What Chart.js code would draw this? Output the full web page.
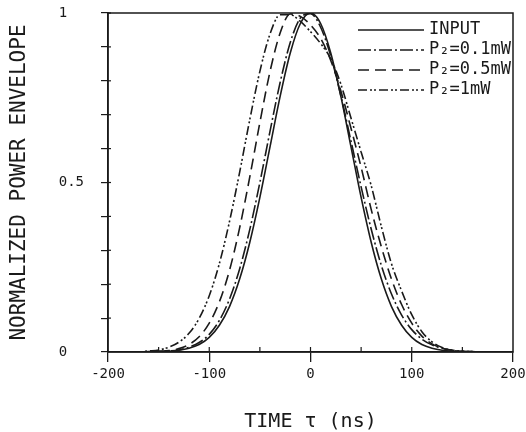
<!DOCTYPE html>
<html>
<head>
<meta charset="utf-8">
<title>pulse envelope</title>
<script src="https://cdn.jsdelivr.net/npm/chart.js@4"></script>
<style>
  body { margin: 0; background: #fff; }
</style>
</head>
<body>
<canvas id="myChart" width="526" height="432"></canvas>
<script>
// time axis (ns) - shared by every curve
const timeNs = [-200,-190,-180,-170,-160,-150,-140,-130,-120,-110,-100,-90,-80,-70,-60,-50,-40,-30,-20,-10,
                0,10,20,30,40,50,60,70,80,90,100,110,120,130,140,150,160,170,180,190,200];

// values
const inputPulse = [0,0,0,0,0,0.001,0.002,0.005,0.011,0.022,0.043,0.079,0.134,0.215,0.323,0.456,0.605,0.754,0.882,0.969,
                    1.0,0.969,0.882,0.754,0.605,0.456,0.323,0.215,0.134,0.079,0.043,0.022,0.011,0.005,0.002,0.001,0,0,0,0,0];
const p01mW = [0,0,0,0,0.001,0.002,0.003,0.006,0.014,0.028,0.052,0.093,0.156,0.245,0.361,0.5,0.651,0.795,0.913,0.985,
               0.998,0.958,0.873,0.756,0.622,0.487,0.362,0.255,0.171,0.109,0.066,0.038,0.021,0.011,0.005,0.002,0.001,0,0,0,0];
const p05mW = [0,0,0,0,0.001,0.002,0.004,0.010,0.022,0.045,0.085,0.148,0.241,0.366,0.516,0.677,0.827,0.941,0.997,0.99,
               0.965,0.925,0.86,0.77,0.66,0.545,0.42,0.31,0.215,0.14,0.085,0.047,0.024,0.011,0.005,0.002,0.001,0,0,0,0];
const p1mW  = [0,0,0,0,0.003,0.006,0.014,0.029,0.055,0.099,0.166,0.261,0.385,0.530,0.685,0.828,0.938,0.995,0.995,0.975,
               0.945,0.91,0.865,0.79,0.69,0.59,0.49,0.37,0.26,0.18,0.11,0.06,0.03,0.013,0.005,0.002,0.001,0,0,0,0];

const seriesLabels = ['INPUT', 'P₂=0.1mW', 'P₂=0.5mW', 'P₂=1mW'];
const seriesValues = [inputPulse, p01mW, p05mW, p1mW];
const seriesDash = [[], [13,3,2,3], [11,6], [9,3,2,2,2,3]];

const xTicks = [-200, -100, 0, 100, 200];
const yTickLabels = { 0: '0  ', 0.5: '0.5', 1: '1  ' };

const monoFont = "'DejaVu Sans Mono', 'Liberation Mono', monospace";
const ink = '#1a1a1a';

// build datasets
let datasets = seriesValues.map((vals, i) => ({
  label: seriesLabels[i],
  data: vals.map((v, j) => ({ x: timeNs[j], y: v })),
  borderColor: ink,
  backgroundColor: 'transparent',
  borderWidth: 1.6,
  borderDash: seriesDash[i],
  pointRadius: 0,
  fill: false,
  cubicInterpolationMode: 'monotone'
}));

// frame, inward ticks and the legend box in the upper right
const framePlugin = {
  id: 'frame',
  afterDraw(chart) {
    const c = chart.ctx, a = chart.chartArea;
    const xs = chart.scales.x, ys = chart.scales.y;
    c.save();
    c.strokeStyle = ink;
    c.lineWidth = 1.5;
    c.strokeRect(a.left, a.top, a.right - a.left, a.bottom - a.top);
    // small ticks pointing inside
    c.lineWidth = 1.2;
    for (let t = -150; t <= 150; t += 50) {
      const px = xs.getPixelForValue(t);
      c.beginPath(); c.moveTo(px, a.bottom); c.lineTo(px, a.bottom - 5); c.stroke();
    }
    for (let v = 0.1; v < 1; v += 0.1) {
      const py = ys.getPixelForValue(v);
      c.beginPath(); c.moveTo(a.left, py); c.lineTo(a.left + 3, py); c.stroke();
    }
    // legend
    c.font = '17px ' + monoFont;
    c.textBaseline = 'middle';
    c.fillStyle = ink;
    chart.data.datasets.forEach((ds, i) => {
      const y = 30 + i * 20;
      c.setLineDash(ds.borderDash);
      c.lineWidth = 1.6;
      c.beginPath(); c.moveTo(358, y); c.lineTo(424, y); c.stroke();
      c.setLineDash([]);
      c.fillText(ds.label, 429, y);
    });
    c.restore();
  }
};

const ctx = document.getElementById('myChart');

new Chart(ctx, {
  type: 'line',
  data: { datasets: datasets },
  options: {
    responsive: false,
    animation: false,
    layout: { padding: { top: 13, right: 13, left: 0, bottom: 0 } },
    plugins: { legend: { display: false }, tooltip: { enabled: false } },
    scales: {
      x: {
        type: 'linear',
        min: -200, max: 200,
        afterFit: (s) => { s.height = 80; s.paddingLeft = 0; s.paddingRight = 0; },
        afterBuildTicks: (s) => { s.ticks = xTicks.map(v => ({ value: v })); },
        ticks: {
          color: ink, font: { family: monoFont, size: 14 },
          padding: 4, maxRotation: 0, autoSkip: false
        },
        grid: { drawOnChartArea: false, drawTicks: true, tickLength: 10, color: ink, lineWidth: 1.3 },
        border: { display: true, color: ink, width: 1.5 },
        title: {
          display: true, text: 'TIME τ (ns)', color: ink,
          font: { family: monoFont, size: 20, lineHeight: 1 },
          padding: { top: 0, bottom: 0 }
        }
      },
      y: {
        min: 0, max: 1,
        afterFit: (s) => { s.width = 108; s.paddingTop = 0; s.paddingBottom = 0; },
        ticks: {
          stepSize: 0.1, color: ink, padding: 17,
          font: { family: monoFont, size: 14 },
          callback: (v) => {
            for (const k in yTickLabels) if (Math.abs(v - k) < 1e-6) return yTickLabels[k];
            return '';
          }
        },
        grid: { drawOnChartArea: false, drawTicks: true, tickLength: 7, color: ink, lineWidth: 1.2 },
        border: { display: true, color: ink, width: 1.5 },
        title: {
          display: true, text: 'NORMALIZED POWER ENVELOPE', color: ink,
          font: { family: monoFont, size: 21, lineHeight: 1 },
          padding: { top: 9, bottom: 0 }
        }
      }
    }
  },
  plugins: [framePlugin]
});
</script>
</body>
</html>
